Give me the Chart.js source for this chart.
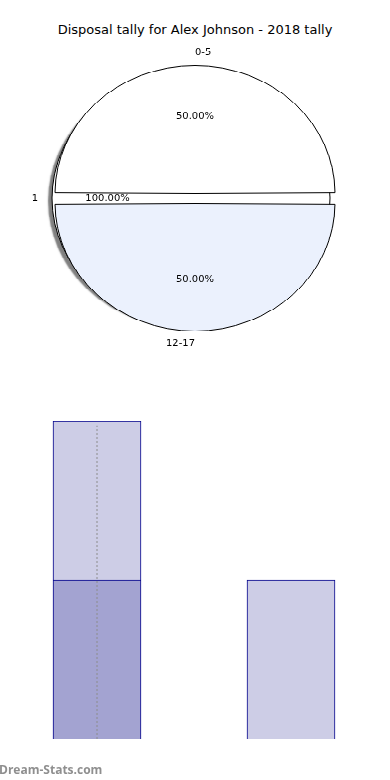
<!DOCTYPE html>
<html>
<head>
<meta charset="utf-8">
<script src="https://cdn.jsdelivr.net/npm/chart.js@4.4.1/dist/chart.umd.min.js"></script>
<style>
  html, body { margin: 0; padding: 0; background: #fff; }
  body { width: 390px; height: 780px; position: relative; overflow: hidden; font-family: "DejaVu Sans", sans-serif; }
  #title { position: absolute; left: 0; top: 22px; width: 390px; text-align: center; font-size: 13px; color: #000; }
  #pieBox { position: absolute; left: 0; top: 25px; width: 390px; height: 380px; transform: scaleY(0.912); transform-origin: 0 0; }
  #pieBox canvas { position: absolute; left: 0; top: 0; }
  #bars { position: absolute; left: 0; top: 380px; }
  #mark { position: absolute; left: -1px; top: 761px; font: bold 12px "Open Sans", sans-serif; color: #8f8f8f; }
</style>
</head>
<body>
<div id="title">Disposal tally for Alex Johnson - 2018 tally</div>
<div id="pieBox">
  <canvas id="pieBack" width="390" height="380"></canvas>
  <canvas id="pieFront" width="390" height="380"></canvas>
</div>
<canvas id="bars" width="390" height="400"></canvas>
<div id="mark">Dream-Stats.com</div>

<script>
// pie data
const backLabels = ['1'];
const backValues = [1];
const pieLabels = ['0-5', '12-17'];
const pieValues = [1, 1];

// bar data
const barCategories = ['Alex Johnson', 'League'];
const darkValues = [1, 0];
const lightValues = [1, 1];
const markerValue = 1.97;

const SQUASH = 0.912; // the pie box is squashed vertically, text gets un-squashed

// labels like matplotlib: name at 1.1r, percent at 0.6r
const pieLabelPlugin = {
    id: 'pieLabels',
    afterDatasetsDraw(chart) {
        const ctx = chart.ctx;
        const meta = chart.getDatasetMeta(0);
        const values = chart.data.datasets[0].data;
        const total = values.reduce((a, b) => a + b, 0);
        ctx.save();
        ctx.fillStyle = '#000';
        ctx.font = '10px "DejaVu Sans"';
        ctx.textBaseline = 'middle';
        meta.data.forEach((arc, i) => {
            const p = arc.getProps(['x', 'y', 'startAngle', 'endAngle', 'outerRadius'], true);
            const mid = (p.startAngle + p.endAngle) / 2;
            const shift = (arc.options.offset || 0) / 4;
            const sweep = p.endAngle - p.startAngle;
            const r = p.outerRadius + shift * (1 - Math.sin(Math.min(Math.PI, sweep)));
            const cx = p.x + Math.cos(mid) * shift;
            const cy = p.y + Math.sin(mid) * shift;
            const c = Math.cos(mid), s = Math.sin(mid);

            let align;
            if (c > 1e-9) align = 'left';
            else if (c < -1e-9) align = 'right';
            else align = s < 0 ? 'left' : 'right';

            const put = (txt, x, y, a) => {
                ctx.save();
                ctx.translate(x, y);
                ctx.scale(1, 1 / SQUASH);
                ctx.textAlign = a;
                ctx.fillText(txt, 0, 0);
                ctx.restore();
            };
            put(chart.data.labels[i], cx + 1.1 * r * c, cy + 1.1 * r * s, align);
            put((values[i] / total * 100).toFixed(2) + '%', cx + 0.6 * r * c, cy + 0.6 * r * s, 'center');
        });
        ctx.restore();
    }
};

// shadow under the background pie, and its outline without the radial seam
const shadowPlugin = {
    id: 'pieShadow',
    beforeDatasetsDraw(chart) {
        const ctx = chart.ctx;
        ctx.save();
        ctx.shadowColor = 'rgba(0,0,0,0.5)';
        ctx.shadowOffsetX = -4;
        ctx.shadowOffsetY = 3;
        ctx.shadowBlur = 1.5;
    },
    afterDatasetsDraw(chart) {
        const ctx = chart.ctx;
        ctx.restore();
        chart.getDatasetMeta(0).data.forEach(arc => {
            ctx.save();
            ctx.strokeStyle = '#000';
            ctx.lineWidth = 1;
            ctx.beginPath();
            ctx.arc(arc.x, arc.y, arc.outerRadius, 0, Math.PI * 2);
            ctx.stroke();
            ctx.restore();
        });
    }
};

const quiet = {
    legend: { display: false },
    tooltip: { enabled: false },
    title: { display: false }
};

// full background pie
new Chart(document.getElementById('pieBack'), {
    type: 'pie',
    data: {
        labels: backLabels,
        datasets: [{
            data: backValues,
            backgroundColor: '#ffffff',
            borderWidth: 0
        }]
    },
    options: {
        responsive: false,
        animation: false,
        events: [],
        devicePixelRatio: 1,
        rotation: 90,
        radius: 139,
        layout: { padding: { right: 8 } },
        plugins: quiet
    },
    plugins: [shadowPlugin, pieLabelPlugin]
});

// exploded front pie
new Chart(document.getElementById('pieFront'), {
    type: 'pie',
    data: {
        labels: pieLabels,
        datasets: [{
            data: pieValues,
            backgroundColor: ['#ffffff', '#ebf1fd'],
            borderColor: '#000000',
            borderWidth: 1,
            offset: 22
        }]
    },
    options: {
        responsive: false,
        animation: false,
        events: [],
        devicePixelRatio: 1,
        rotation: -90,
        radius: 134.5,
        plugins: quiet
    },
    plugins: [pieLabelPlugin]
});

// stacked bars with dotted marker line
new Chart(document.getElementById('bars'), {
    type: 'bar',
    data: {
        labels: barCategories,
        datasets: [
            {
                type: 'line',
                data: [{ x: barCategories[0], y: 0 }, { x: barCategories[0], y: markerValue }],
                borderColor: '#8c8c8c',
                borderWidth: 1,
                borderDash: [2, 2],
                pointRadius: 0,
                fill: false,
                order: 0
            },
            {
                data: darkValues,
                backgroundColor: '#a3a3d1',
                borderColor: '#00008b',
                borderWidth: 1,
                barThickness: 88,
                order: 1
            },
            {
                data: lightValues,
                backgroundColor: '#cdcde6',
                borderColor: '#00008b',
                borderWidth: 1,
                barThickness: 88,
                order: 1
            }
        ]
    },
    options: {
        responsive: false,
        animation: false,
        events: [],
        devicePixelRatio: 1,
        layout: { padding: { top: 41, bottom: 41, left: 0, right: 2 } },
        plugins: quiet,
        scales: {
            x: { display: false, stacked: true },
            y: { display: false, stacked: true, min: 0, max: 2 }
        }
    }
});
</script>
</body>
</html>
